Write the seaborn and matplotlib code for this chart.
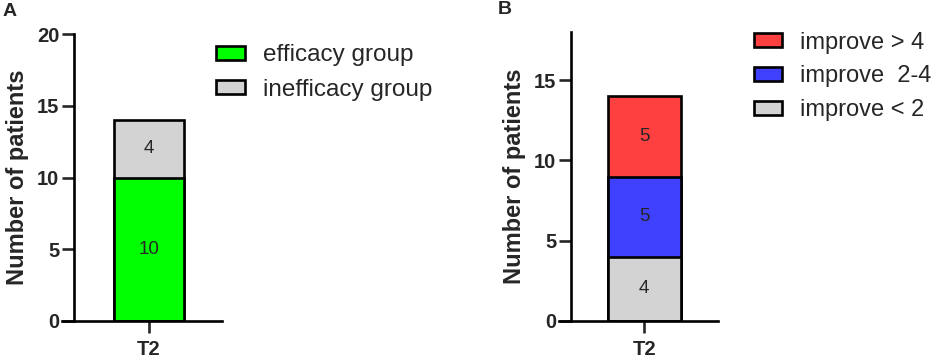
import numpy as np
import pandas as pd
import matplotlib
matplotlib.use("Agg")
import matplotlib.pyplot as plt
from matplotlib.patches import Patch
import seaborn as sns

sns.set_style("white")
plt.rcParams['font.family'] = ['Liberation Sans', 'DejaVu Sans']

# data
category = ["T2"]
a_labels = ["efficacy group", "inefficacy group"]
a_values = [10, 4]
a_colors = ["#00FF00", "#D3D3D3"]

b_labels = ["improve < 2", "improve  2-4", "improve > 4"]
b_values = [4, 5, 5]
b_colors = ["#D3D3D3", "#4040FF", "#FF4040"]

W, H = 935, 361
fig = plt.figure(figsize=(W / 100, H / 100), dpi=100)


def px_axes(x0, x1, y_bottom, y_top):
    return fig.add_axes([x0 / W, 1 - y_bottom / H, (x1 - x0) / W, (y_bottom - y_top) / H])


def stacked(ax, values, colors):
    # draw cumulative bars from top to bottom so they stack
    cum = np.cumsum(values)
    for i in range(len(values) - 1, -1, -1):
        df = pd.DataFrame({"time": category, "n": [cum[i]]})
        sns.barplot(data=df, x="time", y="n", color=colors[i], saturation=1,
                    edgecolor="black", linewidth=1.9, width=0.8, ax=ax)
    bottoms = np.concatenate([[0], cum[:-1]])
    for v, b in zip(values, bottoms):
        ax.text(0, b + v / 2, str(v), ha="center", va="center", fontsize=13.5)


def style(ax, ymax, ystep, spine_pos):
    ax.set_ylim(0, ymax)
    ax.set_yticks(np.arange(0, ymax + 0.1, ystep))
    sns.despine(ax=ax)
    ax.spines['left'].set_position(('axes', spine_pos))
    for s in ['left', 'bottom']:
        ax.spines[s].set_linewidth(1.9)
        ax.spines[s].set_color("black")
    ax.tick_params(axis='both', length=8.5, width=1.9, labelsize=14.5, pad=2,
                   left=True, bottom=True)
    ax.tick_params(axis='x', pad=5)
    for t in ax.get_xticklabels() + ax.get_yticklabels():
        t.set_fontweight("bold")
    ax.set_xlabel("")
    ax.set_ylabel("Number of patients", fontsize=17, fontweight="bold", labelpad=6)


def legend(handles, x, y_top, fs, spacing):
    fig.legend(handles=handles, loc="upper left", bbox_to_anchor=(x / W, 1 - y_top / H),
               frameon=False, fontsize=fs, handlelength=1.2, handleheight=0.55,
               handletextpad=0.75, labelspacing=spacing, borderpad=0, borderaxespad=0)


# panel A
axA = px_axes(62, 222, 321, 34)
stacked(axA, a_values, a_colors)
axA.set_xlim(-0.994, 0.835)
style(axA, 20, 5, 12 / 160)

hA = [Patch(facecolor=c, edgecolor="black", linewidth=1.9, label=l)
      for c, l in zip(a_colors, a_labels)]
legend(hA, 216, 44.5, 17.5, 0.5)

# panel B
axB = px_axes(559, 718, 321, 32)
stacked(axB, b_values, b_colors)
axB.set_xlim(-0.932, 0.81)
style(axB, 18, 5, 12 / 159)

hB = [Patch(facecolor=c, edgecolor="black", linewidth=1.9, label=l)
      for c, l in zip(b_colors[::-1], b_labels[::-1])]
legend(hB, 754, 31.5, 17, 0.5)

fig.text(3 / W, 1 - 11 / H, "A", fontsize=14, fontweight="bold", va="center")
fig.text(498 / W, 1 - 9 / H, "B", fontsize=14, fontweight="bold", va="center")

fig.savefig("out.png", dpi=100)
